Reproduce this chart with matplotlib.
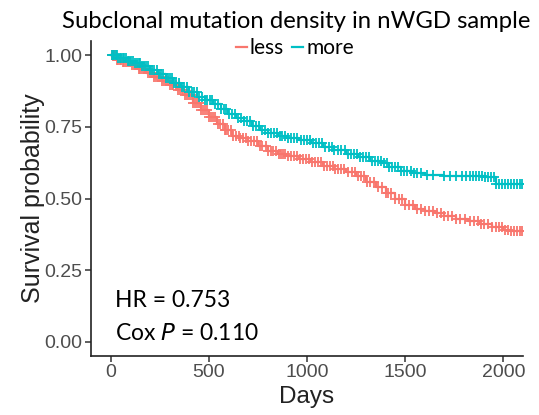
import matplotlib
matplotlib.use("Agg")
import matplotlib.pyplot as plt
from matplotlib.lines import Line2D
import numpy as np

# ---- data ----
groups = ["less", "more"]
colors = ["#F8766D", "#00BFC4"]

less_times = [0, 30, 60, 100, 140, 180, 220, 260, 300, 340, 380, 420, 460, 500, 540, 580,
              620, 660, 700, 750, 800, 850, 900, 960, 1020, 1080, 1140, 1200, 1250, 1300,
              1350, 1400, 1450, 1500, 1550, 1600, 1650, 1700, 1760, 1820, 1880, 1940, 2000, 2040]
less_surv = [1.0, 0.985, 0.975, 0.965, 0.952, 0.94, 0.925, 0.91, 0.895, 0.88, 0.86, 0.835,
             0.81, 0.785, 0.76, 0.74, 0.72, 0.71, 0.70, 0.685, 0.665, 0.655, 0.648, 0.638,
             0.628, 0.615, 0.605, 0.592, 0.578, 0.558, 0.54, 0.52, 0.50, 0.478, 0.465, 0.458,
             0.45, 0.44, 0.43, 0.422, 0.41, 0.40, 0.392, 0.387]
less_censor = [8, 15, 22, 30, 38, 46, 55, 62, 70, 80, 90, 98, 110, 120, 130, 142, 150, 160,
               168, 175, 188, 200, 212, 222, 230, 240, 250, 262, 270, 282, 290, 300, 310, 320,
               332, 345, 355, 362, 370, 380, 390, 400, 410, 420, 428, 440, 452, 462, 470, 482,
               490, 500, 510, 520, 532, 545, 556, 570, 582, 590, 600, 612, 625, 640, 652, 660,
               672, 690, 700, 715, 730, 745, 760, 772, 790, 800, 815, 828, 840, 855, 870, 880,
               890, 905, 920, 935, 950, 965, 980, 995, 1010, 1025, 1040, 1055, 1070, 1085,
               1100, 1115, 1130, 1145, 1160, 1175, 1190, 1210, 1230, 1245, 1260, 1275, 1290,
               1305, 1320, 1340, 1360, 1380, 1400, 1415, 1430, 1450, 1470, 1485, 1500, 1520,
               1540, 1560, 1580, 1600, 1620, 1640, 1660, 1680, 1700, 1720, 1740, 1760, 1780,
               1805, 1830, 1850, 1870, 1885, 1900, 1920, 1940, 1960, 1980, 1995, 2010, 2025,
               2040, 2055, 2070, 2085, 2095]

more_times = [0, 40, 80, 120, 160, 200, 240, 280, 320, 360, 400, 440, 480, 520, 560, 600, 640,
              680, 720, 760, 800, 850, 900, 960, 1020, 1080, 1140, 1200, 1260, 1320, 1380,
              1420, 1480, 1540, 1600, 1700, 1800, 1900, 1960]
more_surv = [1.0, 0.99, 0.98, 0.972, 0.962, 0.95, 0.935, 0.92, 0.905, 0.89, 0.872, 0.855,
             0.843, 0.83, 0.812, 0.795, 0.782, 0.77, 0.755, 0.74, 0.73, 0.72, 0.71, 0.705,
             0.695, 0.68, 0.668, 0.655, 0.645, 0.632, 0.625, 0.61, 0.598, 0.59, 0.583, 0.58,
             0.578, 0.575, 0.552]
more_censor = [5, 12, 18, 25, 32, 40, 48, 55, 62, 70, 78, 86, 95, 105, 115, 125, 135, 142,
               150, 160, 170, 180, 190, 200, 210, 220, 235, 245, 255, 268, 280, 290, 300, 312,
               325, 335, 350, 362, 375, 388, 400, 412, 425, 438, 450, 465, 480, 492, 505, 518,
               530, 545, 560, 575, 590, 605, 620, 635, 650, 665, 680, 695, 710, 725, 740, 755,
               770, 785, 800, 815, 830, 845, 860, 875, 890, 905, 920, 935, 950, 968, 985, 1000,
               1015, 1030, 1045, 1060, 1075, 1092, 1110, 1125, 1140, 1158, 1175, 1192, 1210,
               1225, 1240, 1255, 1270, 1285, 1300, 1315, 1330, 1345, 1360, 1375, 1390, 1405,
               1420, 1435, 1450, 1465, 1480, 1495, 1510, 1528, 1545, 1562, 1580, 1610, 1640,
               1700, 1730, 1760, 1790, 1810, 1830, 1845, 1860, 1875, 1890, 1905, 1920, 1935,
               1950, 1965, 1980, 1995, 2010, 2025, 2040, 2055, 2070, 2085, 2095]

x_end = 2100
x_ticks = [0, 500, 1000, 1500, 2000]
y_ticks = [0.00, 0.25, 0.50, 0.75, 1.00]
y_tick_labels = ["0.00", "0.25", "0.50", "0.75", "1.00"]
title = "Subclonal mutation density in nWGD sample"
hr_text = "HR = 0.753"
p_value = "0.110"

# ---- figure ----
W, H = 539, 415
fig = plt.figure(figsize=(W / 100, H / 100), dpi=100)
ax = fig.add_axes([91 / W, 1 - 356 / H, (523 - 91) / W, (356 - 41) / H])

series = [(less_times, less_surv, less_censor), (more_times, more_surv, more_censor)]
for (t, s, c), col in zip(series, colors):
    tt = list(t) + [x_end]
    ss = list(s) + [s[-1]]
    ax.step(tt, ss, where="post", color=col, lw=1.6, zorder=3)
    t_arr = np.array(t)
    s_arr = np.array(s)
    idx = np.searchsorted(t_arr, np.array(c), side="right") - 1
    ax.plot(c, s_arr[idx], ls="none", marker="+", ms=6.5, mew=1.3, color=col, zorder=3)

ax.set_xlim(-100, 2100)
ax.set_ylim(-0.049, 1.05)
ax.set_xticks(x_ticks)
ax.set_yticks(y_ticks)
ax.set_yticklabels(y_tick_labels)
for sp in ["top", "right"]:
    ax.spines[sp].set_visible(False)
for sp in ["left", "bottom"]:
    ax.spines[sp].set_linewidth(1.2)
    ax.spines[sp].set_color("#222222")
ax.tick_params(direction="out", length=4, width=1.1, color="#333333",
               labelsize=14, labelcolor="#4D4D4D", pad=2)
for lab in ax.get_xticklabels() + ax.get_yticklabels():
    lab.set_family("Liberation Sans")

ax.set_xlabel("Days", family="Liberation Sans", fontsize=17.5, color="#222222", labelpad=3)
ax.set_ylabel("Survival probability", family="Liberation Sans", fontsize=18,
              color="#222222", labelpad=0)

fig.text(296 / W, 1 - 22 / H, title, family="Lato", fontsize=17.2, ha="center",
         va="center", color="black")

handles = [Line2D([0], [0], color=c, lw=1.6) for c in colors]
fig.legend(handles, groups, loc="center", bbox_to_anchor=(295 / W, 1 - 48 / H), ncol=2,
           frameon=False, handlelength=0.5, handletextpad=0.15, columnspacing=0.4,
           prop={"family": "Lato", "size": 15})

fig.text(115 / W, 1 - 307 / H, hr_text, family="Lato", fontsize=16.5, va="baseline")
fig.text(115 / W, 1 - 340 / H, "Cox $\\it{P}$ = " + p_value, family="Lato", fontsize=16.5,
         va="baseline")

fig.savefig("out.png", dpi=100)
